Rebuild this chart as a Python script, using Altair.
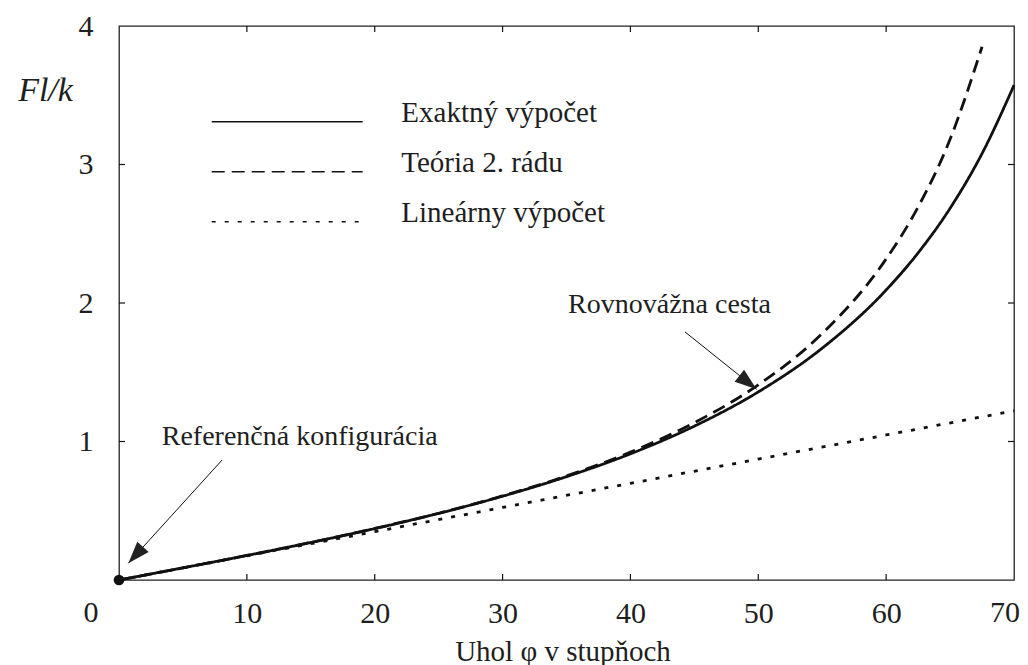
import altair as alt
import pandas as pd

# ---------------- data ----------------
series_names = ["Exaktný výpočet", "Teória 2. rádu", "Lineárny výpočet"]

phi_exact = [0, 5, 10, 15, 20, 25, 30, 35, 40, 45, 50, 55, 60, 62.5, 65, 67.5, 70]
exact_vals = [0, 0.088, 0.177, 0.271, 0.371, 0.481, 0.605, 0.746, 0.911, 1.111,
              1.358, 1.674, 2.094, 2.362, 2.684, 3.079, 3.572]

phi_second = [0, 5, 10, 15, 20, 25, 30, 35, 40, 45, 50, 55, 60, 62.5, 65, 67.5]
second_vals = [0, 0.088, 0.177, 0.271, 0.372, 0.482, 0.607, 0.751, 0.923, 1.136,
               1.409, 1.780, 2.318, 2.693, 3.182, 3.850]

phi_linear = [0, 10, 20, 30, 40, 50, 60, 70]
linear_vals = [0, 0.175, 0.349, 0.524, 0.698, 0.873, 1.047, 1.222]

x_label_values = [10, 20, 30, 40, 50, 60]
x_inner_ticks = [10, 20, 30, 40, 50, 60]
y_label_values = [1, 2, 3, 4]
y_inner_ticks = [1, 2, 3]

x_title = "Uhol φ v stupňoch"
y_title = "Fl/k"
# corner labels of the x axis (placed by hand in data units)
corner_labels = ["0", "70"]
corner_label_pos = [(-2.19, -0.301), (70.47, -0.301)]
corner_label_align = ["center", "right"]

annot_texts = ["Referenčná konfigurácia", "Rovnovážna cesta"]
annot_text_pos = [(3.34, 0.975), (35.12, 1.928)]
arrow_from = [(8.06, 0.866), (44.27, 1.791)]
arrow_to = [(0.73, 0.121), (49.87, 1.377)]
arrow_angle = [222, 128]

# ---------------- styling ----------------
W, H = 895, 554
FONT = "Liberation Serif"
INK = "#111111"
TXT = "#1e1e1e"

rows = []
for name, xs, ys in zip(series_names,
                        [phi_exact, phi_second, phi_linear],
                        [exact_vals, second_vals, linear_vals]):
    for x, y in zip(xs, ys):
        rows.append({"phi": x, "F": y, "serie": name})
lines_df = pd.DataFrame(rows)

x_scale = alt.Scale(domain=[0, 70], nice=False, zero=False)
y_scale = alt.Scale(domain=[0, 4], nice=False, zero=False)

x_axis = alt.Axis(values=x_label_values, title=x_title, grid=False, domain=False,
                  ticks=False, tickSize=0, labelFont=FONT, labelFontSize=30,
                  labelColor=TXT, labelBaseline="alphabetic", labelPadding=42,
                  labelFlush=False, labelOverlap=False,
                  titleFont=FONT, titleFontSize=29, titleFontWeight="normal",
                  titleColor=TXT, titleX=443.5, titleY=80, titleAlign="center",
                  titleBaseline="alphabetic")
y_axis = alt.Axis(values=y_label_values, title=y_title, grid=False, domain=False,
                  ticks=False, tickSize=0, labelFont=FONT, labelFontSize=30,
                  labelColor=TXT, labelAlign="right", labelBaseline="middle",
                  labelPadding=26, labelFlush=False, labelOverlap=False,
                  titleFont=FONT, titleFontSize=34, titleFontWeight="normal",
                  titleFontStyle="italic", titleColor=TXT, titleAngle=0,
                  titleX=-74, titleY=74, titleAlign="center",
                  titleBaseline="alphabetic")

legend = alt.Legend(orient="none", legendX=91.7, legendY=70.7, title=None,
                    symbolType="stroke", symbolSize=22801, symbolStrokeWidth=1.5,
                    symbolStrokeColor=INK, labelFont=FONT, labelFontSize=29,
                    labelColor=TXT, labelOffset=37.6, clipHeight=50, rowPadding=0,
                    labelBaseline="alphabetic", padding=0, labelLimit=400)

X = alt.X("phi:Q", scale=x_scale, axis=x_axis)
Y = alt.Y("F:Q", scale=y_scale, axis=y_axis)

lines = alt.Chart(lines_df).mark_line(strokeWidth=2.8, color=INK,
                                      interpolate="monotone").encode(
    x=X, y=Y,
    strokeDash=alt.StrokeDash("serie:N",
                              scale=alt.Scale(domain=series_names,
                                              range=[[1, 0], [13, 7], [4, 9]]),
                              legend=legend),
)

# origin point
origin_df = pd.DataFrame({"phi": [phi_exact[0]], "F": [exact_vals[0]]})
origin = alt.Chart(origin_df).mark_circle(size=115, color=INK, opacity=1).encode(x=X, y=Y)

# inner ticks
bt = alt.Chart(pd.DataFrame({"phi": x_inner_ticks})).mark_rule(color=INK, strokeWidth=1.2).encode(
    x=X, y=alt.value(H), y2=alt.value(H - 6))
tt = alt.Chart(pd.DataFrame({"phi": x_inner_ticks})).mark_rule(color=INK, strokeWidth=1.2).encode(
    x=X, y=alt.value(0), y2=alt.value(6))
lt = alt.Chart(pd.DataFrame({"F": y_inner_ticks})).mark_rule(color=INK, strokeWidth=1.2).encode(
    y=Y, x=alt.value(0), x2=alt.value(6))
rt = alt.Chart(pd.DataFrame({"F": y_inner_ticks})).mark_rule(color=INK, strokeWidth=1.2).encode(
    y=Y, x=alt.value(W), x2=alt.value(W - 6))

# corner labels "0" and "70"
corner_layers = []
for t, (px, py), al in zip(corner_labels, corner_label_pos, corner_label_align):
    df = pd.DataFrame({"phi": [px], "F": [py], "t": [t]})
    corner_layers.append(
        alt.Chart(df).mark_text(font=FONT, fontSize=30, color=TXT, align=al,
                                baseline="alphabetic").encode(x=X, y=Y, text="t:N"))

# annotations
ann_df = pd.DataFrame({"phi": [p[0] for p in annot_text_pos],
                       "F": [p[1] for p in annot_text_pos],
                       "t": annot_texts})
ann_txt = alt.Chart(ann_df).mark_text(font=FONT, fontSize=28, color=TXT,
                                      align="left", baseline="alphabetic").encode(
    x=X, y=Y, text="t:N")

arr_df = pd.DataFrame({"phi": [a[0] for a in arrow_from], "F": [a[1] for a in arrow_from],
                       "phi2": [b[0] for b in arrow_to], "F2": [b[1] for b in arrow_to]})
arr_lines = alt.Chart(arr_df).mark_rule(color=INK, strokeWidth=1).encode(
    x=X, y=Y, x2="phi2:Q", y2="F2:Q")

head_df = pd.DataFrame({"phi": [b[0] for b in arrow_to], "F": [b[1] for b in arrow_to],
                        "ang": arrow_angle})
heads = alt.Chart(head_df).mark_point(shape="M0,0L-0.7,2L0.7,2Z", filled=True, size=480,
                                      color="#222222", opacity=1, strokeWidth=0).encode(
    x=X, y=Y, angle=alt.Angle("ang:Q", scale=None))

chart = alt.layer(lines, bt, tt, lt, rt, origin, *corner_layers, ann_txt, arr_lines, heads).properties(
    width=W, height=H,
    autosize=alt.AutoSizeParams(type="none"),
    padding={"left": 111, "top": 18, "right": 6, "bottom": 85},
    background="white",
).configure_view(stroke="#222222", strokeWidth=1.3)

chart.save("out.html", embed_options={"renderer": "svg", "actions": False})
